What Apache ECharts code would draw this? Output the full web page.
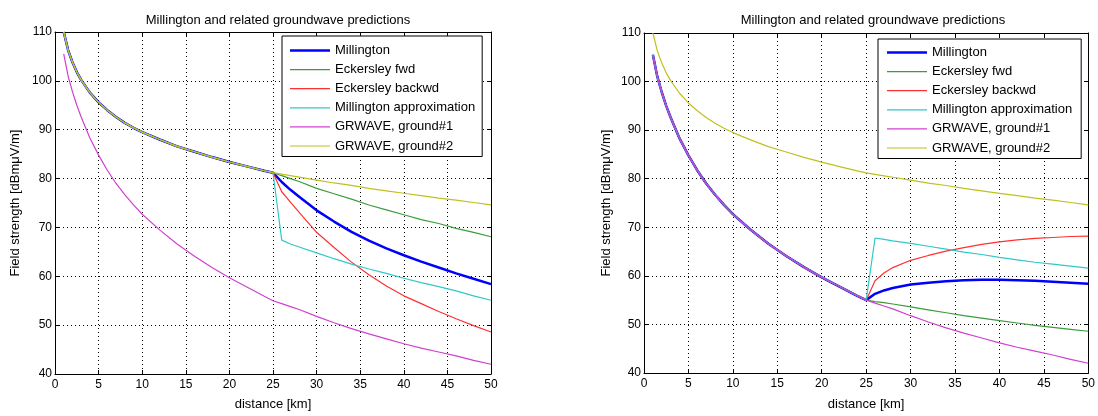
<!DOCTYPE html>
<html>
<head>
<meta charset="utf-8">
<script src="https://cdn.jsdelivr.net/npm/echarts@6/dist/echarts.min.js"></script>
<style>
html,body{margin:0;padding:0;background:#fff;}
#chart{width:1098px;height:416px;}
</style>
</head>
<body>
<div id="chart"></div>
<script>
// ---- data ----
const seriesNames = ['Millington', 'Eckersley fwd', 'Eckersley backwd', 'Millington approximation', 'GRWAVE, ground#1', 'GRWAVE, ground#2'];
const xTicks = [0, 5, 10, 15, 20, 25, 30, 35, 40, 45, 50];
const yTicks = [40, 50, 60, 70, 80, 90, 100, 110];

// distances (km): first section (0-25 km) and second section (25-50 km)
const dNear = [1, 1.5, 2, 2.5, 3, 4, 5, 6, 7, 8, 9, 10, 12, 14, 16, 18, 20, 22, 24, 25];
const dFar = [26, 27, 28, 30, 32, 34, 36, 38, 40, 42, 44, 46, 48, 50];

// GRWAVE ground#2 (good ground)
const g2Near = [110, 106.3, 103.8, 101.8, 100.2, 97.6, 95.6, 94.0, 92.6, 91.4, 90.4, 89.5, 88.0, 86.6, 85.5, 84.4, 83.4, 82.5, 81.6, 81.2];
const g2Far = [80.9, 80.6, 80.3, 79.7, 79.1, 78.6, 78.0, 77.5, 77.0, 76.5, 76.0, 75.6, 75.1, 74.6];
// GRWAVE ground#1 (poor ground)
const g1Near = [105.5, 101.0, 97.8, 95.0, 92.6, 88.3, 84.8, 81.7, 79.0, 76.7, 74.6, 72.7, 69.5, 66.6, 64.1, 61.8, 59.7, 57.8, 55.9, 55.0];
const g1Far = [54.4, 53.8, 53.2, 51.8, 50.5, 49.3, 48.2, 47.2, 46.2, 45.3, 44.5, 43.7, 42.8, 42.0];

// left panel: ground#2 then ground#1
const leftMill = [79.3, 77.7, 76.3, 73.5, 71.2, 69.1, 67.3, 65.7, 64.3, 63.0, 61.8, 60.6, 59.5, 58.4];
const leftFwd = [80.6, 80.0, 79.4, 78.0, 76.9, 75.8, 74.6, 73.6, 72.6, 71.6, 70.8, 69.8, 69.0, 68.1];
const leftBack = [77.3, 75.2, 73.1, 69.0, 65.9, 62.9, 60.3, 58.0, 56.0, 54.4, 52.8, 51.3, 49.9, 48.6];
const leftApprox = [67.4, 66.6, 66.0, 64.8, 63.6, 62.5, 61.5, 60.6, 59.6, 58.7, 57.9, 57.0, 56.0, 55.1];

// right panel: ground#1 then ground#2
const rightMill = [56.3, 57.0, 57.5, 58.2, 58.6, 58.9, 59.1, 59.2, 59.2, 59.1, 59.0, 58.8, 58.6, 58.4];
const rightFwd = [54.7, 54.5, 54.2, 53.6, 53.0, 52.4, 51.8, 51.3, 50.8, 50.3, 49.8, 49.4, 49.0, 48.6];
const rightBack = [59.0, 60.6, 61.7, 63.2, 64.2, 65.1, 65.8, 66.5, 67.0, 67.4, 67.7, 67.9, 68.1, 68.2];
const rightApprox = [67.8, 67.5, 67.2, 66.7, 66.1, 65.5, 64.9, 64.4, 63.8, 63.3, 62.8, 62.4, 62.0, 61.6];

// ---- build ----
const colors = ['#0000ff', '#3c9c3c', '#ff3030', '#30c8c8', '#d040d0', '#c0c020'];
const widths = [2.5, 1.2, 1.2, 1.2, 1.2, 1.2];
const FONT = '"Liberation Sans", Arial, Helvetica, sans-serif';

function pairs(xs, ys) { return xs.map((x, i) => [x, ys[i]]); }
function path(nearY, farY) { return pairs(dNear, nearY).concat(pairs(dFar, farY)); }

const panelData = [
  [path(g2Near, leftMill), path(g2Near, leftFwd), path(g2Near, leftBack), path(g2Near, leftApprox), path(g1Near, g1Far), path(g2Near, g2Far)],
  [path(g1Near, rightMill), path(g1Near, rightFwd), path(g1Near, rightBack), path(g1Near, rightApprox), path(g1Near, g1Far), path(g2Near, g2Far)]
];

const grids = [
  { left: 55, top: 32, width: 436, height: 344 },
  { left: 644, top: 33, width: 448, height: 349 }
];

const xAxes = [], yAxes = [], series = [];
grids.forEach((g, gi) => {
  const base = {
    type: 'value', gridIndex: gi, min: 0, max: 50, interval: 5
  };
  xAxes.push(Object.assign({}, base, {
    position: 'bottom',
    name: 'distance [km]', nameLocation: 'middle', nameGap: gi === 0 ? 24 : 25,
    nameTextStyle: { fontFamily: FONT, fontSize: 13, color: '#000' },
    axisLine: { show: true, onZero: false, lineStyle: { color: '#000', width: 1 } },
    axisTick: { show: true, inside: true, length: 4, lineStyle: { color: '#000' } },
    axisLabel: { fontFamily: FONT, fontSize: 12, color: '#000', margin: 5,
      formatter: v => xTicks.indexOf(v) >= 0 ? String(v) : '' },
    splitLine: { show: true, lineStyle: { type: [1, 3], color: '#000', width: 1 } }
  }));
  xAxes.push(Object.assign({}, base, {
    position: 'top',
    axisLine: { show: true, onZero: false, lineStyle: { color: '#000', width: 1 } },
    axisTick: { show: true, inside: true, length: 4, lineStyle: { color: '#000' } },
    axisLabel: { show: false }, splitLine: { show: false }
  }));
  const ybase = { type: 'value', gridIndex: gi, min: 40, max: 110, interval: 10 };
  yAxes.push(Object.assign({}, ybase, {
    position: 'left',
    name: 'Field strength [dBmμV/m]', nameLocation: 'middle', nameGap: gi === 0 ? 33 : 31,
    nameTextStyle: { fontFamily: FONT, fontSize: 13, color: '#000' },
    axisLine: { show: true, onZero: false, lineStyle: { color: '#000', width: 1 } },
    axisTick: { show: true, inside: true, length: 4, lineStyle: { color: '#000' } },
    axisLabel: { fontFamily: FONT, fontSize: 12, color: '#000', margin: 3,
      formatter: v => yTicks.indexOf(v) >= 0 ? String(v) : '' },
    splitLine: { show: true, lineStyle: { type: [1, 3], color: '#000', width: 1 } }
  }));
  yAxes.push(Object.assign({}, ybase, {
    position: 'right',
    axisLine: { show: true, onZero: false, lineStyle: { color: '#000', width: 1 } },
    axisTick: { show: true, inside: true, length: 4, lineStyle: { color: '#000' } },
    axisLabel: { show: false }, splitLine: { show: false }
  }));
  seriesNames.forEach((name, si) => {
    series.push({
      type: 'line', name: name,
      xAxisIndex: gi * 2, yAxisIndex: gi * 2,
      data: panelData[gi][si],
      showSymbol: false, symbol: 'none',
      smooth: false, clip: true,
      color: colors[si],
      lineStyle: { color: colors[si], width: widths[si] },
      emphasis: { disabled: true },
      z: 2 + si
    });
  });
});

const legendData = seriesNames.map((n, i) => ({
  name: n,
  icon: 'path://M0,0 L40,0 L40,' + (i === 0 ? 2.5 : 1.2) + ' L0,' + (i === 0 ? 2.5 : 1.2) + ' Z',
  itemStyle: { color: colors[i] }
}));

const legendBase = {
  orient: 'vertical',
  data: legendData,
  itemWidth: 40, itemHeight: 14, itemGap: 6.1,
  symbolKeepAspect: true,
  backgroundColor: '#fff',
  borderColor: '#000', borderWidth: 1, borderRadius: 0,
  textStyle: { fontFamily: FONT, fontSize: 13, color: '#000' },
  selectedMode: false, z: 10
};

const option = {
  animation: false,
  backgroundColor: '#fff',
  title: [
    { text: 'Millington and related groundwave predictions', left: 273, top: 9, textAlign: 'center',
      textStyle: { fontFamily: FONT, fontSize: 13, fontWeight: 'normal', color: '#000' } },
    { text: 'Millington and related groundwave predictions', left: 868, top: 9, textAlign: 'center',
      textStyle: { fontFamily: FONT, fontSize: 13, fontWeight: 'normal', color: '#000' } }
  ],
  grid: grids.map(g => Object.assign({ show: false, containLabel: false }, g)),
  legend: [
    Object.assign({}, legendBase, { left: 282, top: 36, padding: [8, 7, 4, 8] }),
    Object.assign({}, legendBase, { left: 878, top: 39, padding: [7, 9, 4, 9] })
  ],
  xAxis: xAxes,
  yAxis: yAxes,
  series: series
};

const chart = echarts.init(document.getElementById('chart'), null, { renderer: 'canvas' });
chart.setOption(option);
</script>
</body>
</html>
